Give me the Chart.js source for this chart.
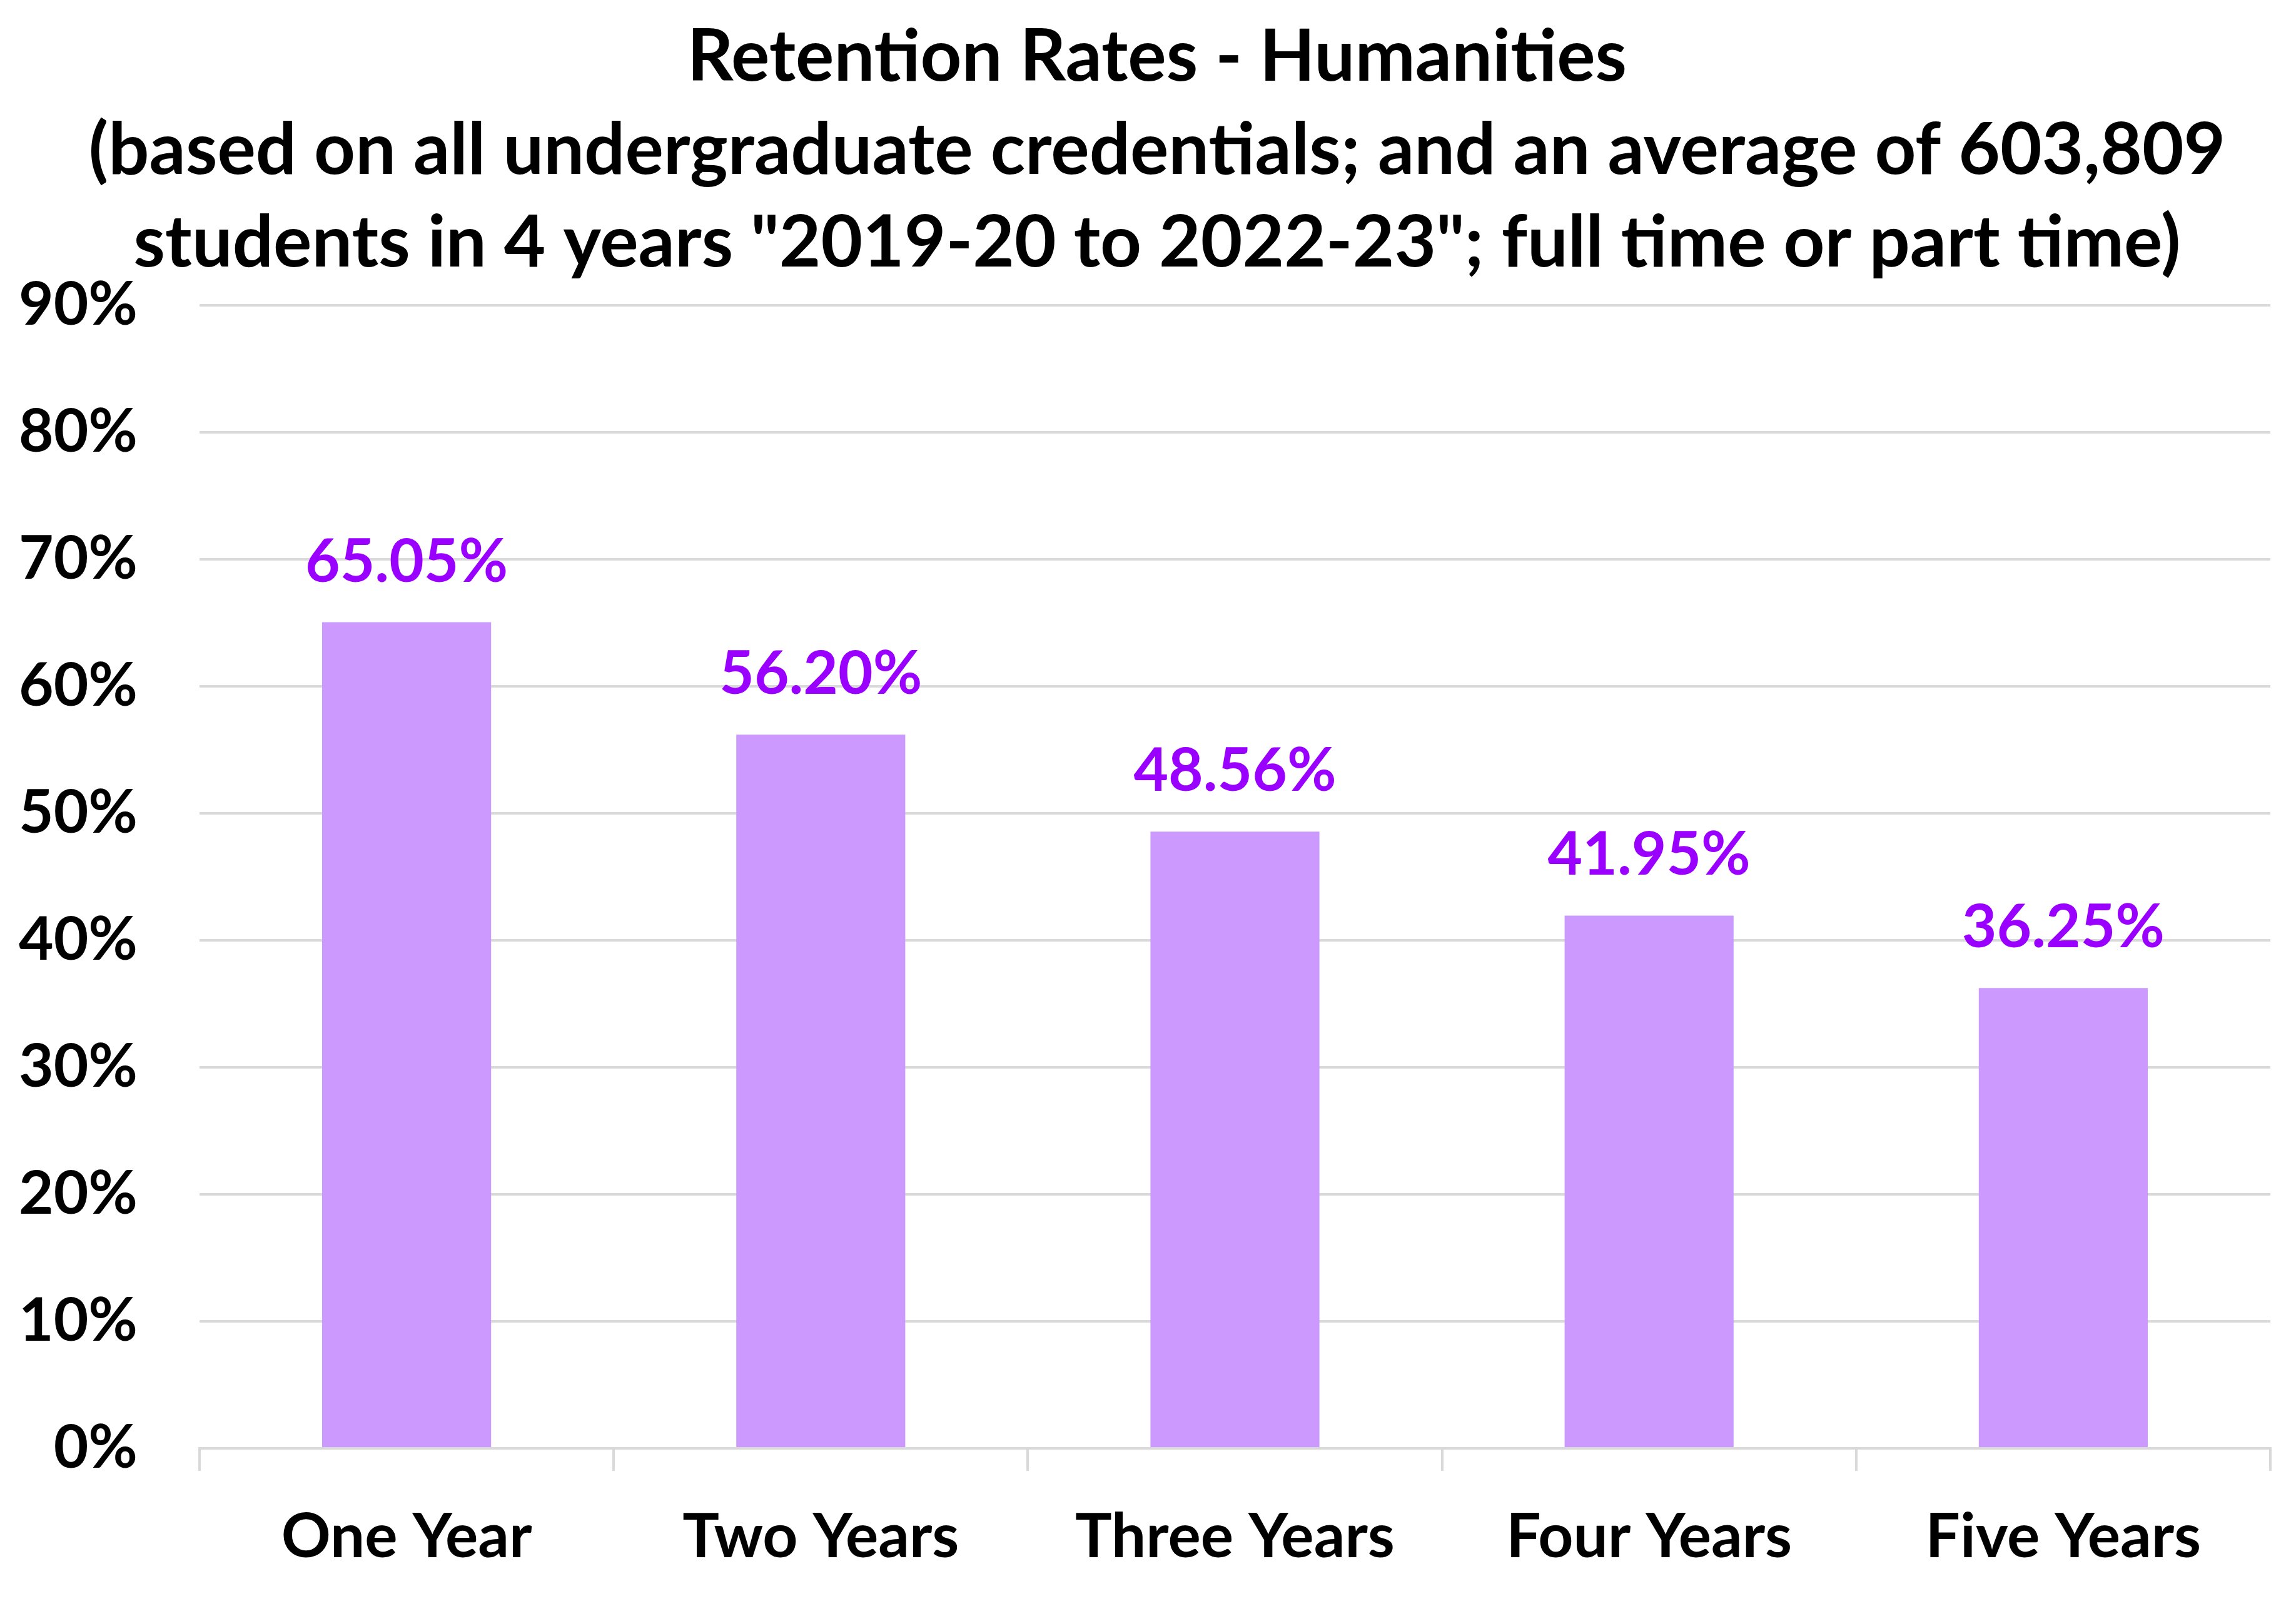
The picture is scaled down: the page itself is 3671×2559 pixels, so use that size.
<!DOCTYPE html>
<html>
<head>
<meta charset="utf-8">
<script src="https://cdn.jsdelivr.net/npm/chart.js@4"></script>
<style>
  html, body { margin: 0; padding: 0; background: #ffffff; }
  #wrap { width: 3671px; height: 2559px; }
</style>
</head>
<body>
<div id="wrap"><canvas id="retentionChart" width="3671" height="2559"></canvas></div>
<script>
const categories = ['One Year', 'Two Years', 'Three Years', 'Four Years', 'Five Years'];
const retention = [65.05, 56.20, 48.56, 41.95, 36.25];
const yTicks = [0, 10, 20, 30, 40, 50, 60, 70, 80, 90];
const titleLines = [
    'Retention Rates - Humanities',
    '(based on all undergraduate credentials; and an average of 603,809',
    'students in 4 years "2019-20 to 2022-23"; full time or part time)'
];

const FONT = 'Lato, "Open Sans", sans-serif';

// draws the value above each bar
const barLabels = {
    id: 'barLabels',
    afterDatasetsDraw(chart) {
        const ctx = chart.ctx;
        const meta = chart.getDatasetMeta(0);
        ctx.save();
        ctx.font = 'bold 96px ' + FONT;
        ctx.fillStyle = '#9900ff';
        ctx.textAlign = 'center';
        ctx.textBaseline = 'alphabetic';
        meta.data.forEach(function(bar, i) {
            ctx.fillText(retention[i].toFixed(2) + '%', bar.x, bar.y - 65);
        });
        ctx.restore();
    }
};

// the original title sits a little right of the centre
const titleShift = {
    id: 'titleShift',
    afterLayout(chart) {
        if (chart.titleBlock) chart.titleBlock.left += 70;
    }
};

const ctx = document.getElementById('retentionChart').getContext('2d');

new Chart(ctx, {
    type: 'bar',
    data: {
        labels: categories,
        datasets: [{
            label: 'Retention',
            data: retention,
            backgroundColor: '#cc99ff',
            borderWidth: 0,
            categoryPercentage: 1,
            barPercentage: 0.408
        }]
    },
    options: {
        responsive: false,
        animation: false,
        devicePixelRatio: 1,
        layout: { padding: { left: 0, right: 41, top: 0, bottom: 0 } },
        plugins: {
            legend: { display: false },
            tooltip: { enabled: false },
            title: {
                display: true,
                text: titleLines,
                color: '#000000',
                font: { family: FONT, size: 115, weight: 'bold', lineHeight: 1.29 },
                padding: { top: 18, bottom: 25 }
            }
        },
        scales: {
            x: {
                grid: {
                    offset: true,
                    drawOnChartArea: false,
                    color: '#d9d9d9',
                    lineWidth: 4,
                    tickLength: 36
                },
                border: { color: '#d9d9d9', width: 4 },
                ticks: {
                    color: '#000000',
                    font: { family: FONT, size: 98, weight: 'bold' },
                    padding: 48
                },
                afterFit: function(scale) { scale.height = 244; }
            },
            y: {
                min: 0,
                max: 90,
                afterBuildTicks: function(scale) {
                    scale.ticks = yTicks.map(function(v) { return { value: v }; });
                },
                grid: {
                    color: '#d9d9d9',
                    lineWidth: 4,
                    drawTicks: false
                },
                border: { display: false },
                ticks: {
                    color: '#000000',
                    font: { family: FONT, size: 96, weight: 'bold' },
                    padding: 99,
                    callback: function(value) { return value + '%'; }
                },
                afterFit: function(scale) { scale.width = 319; }
            }
        }
    },
    plugins: [barLabels, titleShift]
});
</script>
</body>
</html>
